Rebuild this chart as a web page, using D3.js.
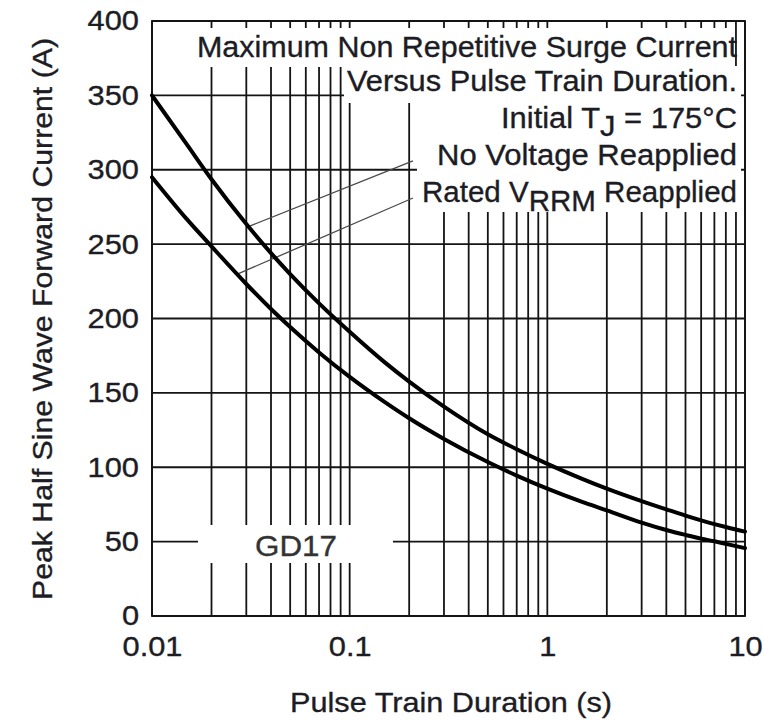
<!DOCTYPE html>
<html>
<head>
<meta charset="utf-8">
<script src="https://cdn.jsdelivr.net/npm/d3@7"></script>
<style>
  html, body { margin: 0; padding: 0; background: #fff; }
  svg { display: block; }
  text { font-family: "Liberation Sans", Arial, Helvetica, sans-serif; fill: #1c1c24; stroke: #1c1c24; stroke-width: 0.35px; }
</style>
</head>
<body>
<svg id="chart" width="765" height="727"></svg>
<script>
// Pulse train duration (s) at which both curves are sampled
const durations = [0.01, 0.015, 0.02, 0.03, 0.04, 0.05, 0.07, 0.1, 0.15, 0.2, 0.3, 0.5, 0.7,
                   1, 1.5, 2, 3, 4, 5, 6, 7, 8, 10];
// Peak half sine wave forward current (A), no voltage reapplied
const noVoltageCurrent = [350, 317, 293.6, 263.5, 244, 229.9, 210.2, 191.1, 170.7, 157.6, 140.8, 122.2, 112.1,
                          102.3, 92.2, 85.6, 77.2, 71.7, 67.5, 64.3, 61.8, 59.8, 56.7];
// Peak half sine wave forward current (A), rated VRRM reapplied
const ratedVrrmCurrent = [295, 266.8, 248.5, 223.2, 206.4, 194.3, 177.2, 160.7, 143.9, 132.9, 119, 103.5, 94.4,
                          85.6, 76.7, 71, 62.8, 57.8, 54.5, 52, 50.2, 48.5, 45.6];

const yTicks = [0, 50, 100, 150, 200, 250, 300, 350, 400];
const xTicks = [0.01, 0.1, 1, 10];
const xTickLabels = ["0.01", "0.1", "1", "10"];

// Leader lines from the legend text to each curve: [fromDuration, fromCurrent, toDuration, toCurrent]
const leaderNoVoltage = [0.209, 306, 0.031, 262];
const leaderRated = [0.209, 281, 0.0272, 230];

const svg = d3.select("#chart");
const x = d3.scaleLog().domain([0.01, 10]).range([152, 745]);
const y = d3.scaleLinear().domain([0, 400]).range([616, 21]);

const gridColor = "#141414";
const gridWidth = 1.8;

// Horizontally widen a text element by factor k (or to an explicit width)
function widen(sel, k, width) {
  sel.each(function () {
    const w = width || this.getComputedTextLength() * k;
    d3.select(this).attr("textLength", w).attr("lengthAdjust", "spacingAndGlyphs");
  });
}

// ---- grid ----
const grid = svg.append("g");
const minor = x.ticks();
grid.selectAll("line.v").data(minor).join("line")
  .attr("x1", d => x(d)).attr("x2", d => x(d))
  .attr("y1", y(400)).attr("y2", y(0))
  .attr("stroke", gridColor).attr("stroke-width", gridWidth);
grid.selectAll("line.h").data(yTicks).join("line")
  .attr("x1", x(0.01)).attr("x2", x(10))
  .attr("y1", d => y(d)).attr("y2", d => y(d))
  .attr("stroke", gridColor).attr("stroke-width", gridWidth);
grid.append("rect")
  .attr("x", x(0.01)).attr("y", y(400))
  .attr("width", x(10) - x(0.01)).attr("height", y(0) - y(400))
  .attr("fill", "none").attr("stroke", gridColor).attr("stroke-width", gridWidth);

// ---- white backing behind the annotation text ----
const masks = [
  [190, 28, 734 - 190, 67 - 28],
  [344, 66, 741 - 344, 103 - 66],
  [417, 102, 741 - 417, 212 - 102],
  [198, 525, 393 - 198, 563 - 525]
];
svg.append("g").selectAll("rect").data(masks).join("rect")
  .attr("x", d => d[0]).attr("y", d => d[1])
  .attr("width", d => d[2]).attr("height", d => d[3])
  .attr("fill", "#fff");

// ---- axes ----
const yAxis = svg.append("g")
  .attr("transform", `translate(${x(0.01)},0)`)
  .call(d3.axisLeft(y).tickValues(yTicks).tickSize(0).tickPadding(13));
yAxis.select(".domain").remove();
yAxis.selectAll("text").attr("font-size", 28).attr("fill", "#1c1c24").attr("font-family", null);
widen(yAxis.selectAll("text"), 1.1);

const xAxis = svg.append("g")
  .attr("transform", `translate(0,${y(0)})`)
  .call(d3.axisBottom(x).tickValues(xTicks).tickFormat((d, i) => xTickLabels[i]).tickSize(0).tickPadding(20));
xAxis.select(".domain").remove();
xAxis.selectAll("text").attr("font-size", 28).attr("fill", "#1c1c24").attr("font-family", null);
widen(xAxis.selectAll("text"), 1.1);

// axis titles
const xTitle = svg.append("text")
  .attr("x", 451).attr("y", 712)
  .attr("text-anchor", "middle").attr("font-size", 28)
  .text("Pulse Train Duration (s)");
widen(xTitle, 1, 322);

const yTitle = svg.append("text")
  .attr("transform", "translate(52,319) rotate(-90)")
  .attr("text-anchor", "middle").attr("font-size", 28)
  .text("Peak Half Sine Wave Forward Current (A)");
widen(yTitle, 1, 562);

// ---- annotation text ----
const ann = svg.append("g").attr("font-size", 29);
const rows = [
  { parts: [["Maximum Non Repetitive Surge Current", 0]], base: 57, width: 540 },
  { parts: [["Versus Pulse Train Duration.", 0]], base: 91, width: 390 },
  { parts: [["Initial T", 0], ["J", 8], [" = 175°C", -8]], base: 128, width: 236 },
  { parts: [["No Voltage Reapplied", 0]], base: 165, width: 300 },
  { parts: [["Rated V", 0], ["RRM", 9], [" Reapplied", -9]], base: 202, width: 315 }
];
rows.forEach(r => {
  const t = ann.append("text")
    .attr("x", 737).attr("y", r.base).attr("text-anchor", "end");
  r.parts.forEach(p => t.append("tspan").attr("dy", p[1]).text(p[0]));
  widen(t, 1, r.width);
});

const tag = svg.append("text")
  .attr("x", 296).attr("y", 556).attr("text-anchor", "middle")
  .attr("font-size", 30)
  .style("fill", "#333").style("stroke", "#333")
  .text("GD17");
widen(tag, 1, 82);

// ---- leader lines ----
svg.append("g").selectAll("line").data([leaderNoVoltage, leaderRated]).join("line")
  .attr("x1", d => x(d[0])).attr("y1", d => y(d[1]))
  .attr("x2", d => x(d[2])).attr("y2", d => y(d[3]))
  .attr("stroke", "#4a4a4a").attr("stroke-width", 1.3);

// ---- curves ----
const line = d3.line()
  .x(d => x(d[0])).y(d => y(d[1]))
  .curve(d3.curveMonotoneX);
[noVoltageCurrent, ratedVrrmCurrent].forEach(series => {
  svg.append("path")
    .datum(durations.map((d, i) => [d, series[i]]))
    .attr("d", line)
    .attr("fill", "none").attr("stroke", "#000")
    .attr("stroke-width", 4).attr("stroke-linecap", "round");
});
</script>
</body>
</html>
